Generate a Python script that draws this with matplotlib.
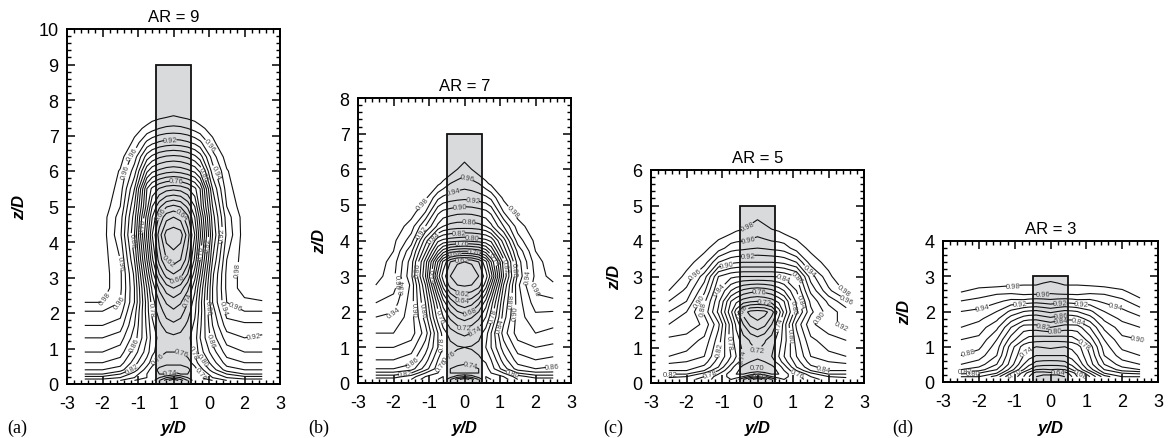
#!/usr/bin/python3
import numpy as np
import matplotlib
matplotlib.use('Agg')
import matplotlib.pyplot as plt
from matplotlib.ticker import MultipleLocator, FixedLocator, FixedFormatter

plt.rcParams['font.family'] = ['Liberation Sans', 'DejaVu Sans']

levels = np.arange(58, 100, 2)
y_cols = [-2.5, -2, -1.5, -1.1, -0.75, -0.6, -0.4, -0.2, 0, 0.2, 0.4, 0.6, 0.75, 1.1, 1.5, 2, 2.5]

# velocity grids, in percent of free stream
z_a = [0.1, 0.18, 0.28, 0.4, 0.6, 0.9, 1.3, 1.65, 2.05, 2.3, 2.7, 3.1, 3.5, 4.2, 4.7, 5.0, 5.5, 6.0, 6.4, 6.8, 7.2, 7.6, 8.0]
u_a = [
    [79, 79, 78, 76, 75, 75, 78, 81, 84, 81, 78, 75, 75, 76, 78, 79, 79],
    [81, 81, 80, 78, 76, 75, 76, 78, 79, 78, 76, 75, 76, 78, 80, 81, 81],
    [84, 84, 82, 79, 76, 75, 74, 74, 75, 74, 74, 75, 76, 79, 82, 84, 84],
    [86, 86, 85, 81, 77, 75, 73.5, 73, 73, 73, 73.5, 75, 77, 81, 85, 86, 86],
    [88, 88, 87, 83, 79, 77, 75, 74.5, 74.5, 74.5, 75, 77, 79, 83, 87, 88, 88],
    [90, 90, 89, 85, 81, 78.5, 77, 76, 76, 76, 77, 78.5, 81, 85, 89, 90, 90],
    [92, 92, 91, 87, 82, 79, 77.5, 76.8, 76.5, 76.8, 77.5, 79, 82, 87, 91, 92, 91.5],
    [94, 94, 93, 88, 81.5, 78.5, 76.5, 75, 74.5, 75, 76.5, 78.5, 81.5, 88, 93, 93.5, 93.5],
    [96, 96, 95, 89, 81, 77.5, 75, 73, 72.3, 73, 75, 77.5, 81, 89, 95, 96, 96],
    [98, 98, 96, 90, 81, 77, 74, 71.8, 71, 71.8, 74, 77, 81, 90, 96, 97.5, 97.8],
    [99.5, 99, 96.5, 90, 80, 75.5, 71.5, 69, 68, 69, 71.5, 75.5, 80, 90, 96.5, 99, 99.5],
    [100, 99, 96.5, 89.5, 78, 73, 68, 65, 64, 65, 68, 73, 78, 89.5, 96.5, 99, 100],
    [100, 99, 96, 88, 76, 70.5, 65, 62, 61, 62, 65, 70.5, 76, 88, 96, 99, 100],
    [100, 99, 94.5, 86, 73.5, 68, 63, 59, 58.5, 59, 63, 68, 73.5, 86, 94.5, 99, 100],
    [100, 99, 95, 87, 75, 70, 65.5, 62.8, 62, 62.8, 65.5, 70, 75, 87, 95, 99, 100],
    [100, 99.5, 96, 88, 77, 72, 68.5, 66.2, 65.5, 66.2, 68.5, 72, 77, 88, 96, 99.5, 100],
    [100, 100, 97, 90, 78, 75.5, 73.8, 72.8, 72.5, 72.8, 73.8, 75.5, 78, 90, 97, 100, 100],
    [100, 100, 97.8, 93, 84.5, 82.5, 81.5, 80.8, 80.5, 80.8, 81.5, 82.5, 84.5, 93, 97.8, 100, 100],
    [100, 100, 99, 95, 89, 87.5, 86.3, 85.7, 85.5, 85.7, 86.3, 87.5, 89, 95, 99, 100, 100],
    [100, 100, 100, 97.5, 93.5, 92.5, 91.7, 91.2, 91, 91.2, 91.7, 92.5, 93.5, 97.5, 100, 100, 100],
    [100, 100, 100, 98.8, 97.5, 96.8, 96, 95.6, 95.5, 95.6, 96, 96.8, 97.5, 98.8, 100, 100, 100],
    [100, 100, 100, 100, 99.5, 99.2, 99, 98.7, 98.3, 98.7, 99, 99.2, 99.5, 100, 100, 100, 100],
    [100, 100, 100, 100, 100, 100, 100, 100, 100, 100, 100, 100, 100, 100, 100, 100, 100],
]

z_b = [0.1, 0.18, 0.28, 0.4, 0.65, 1.0, 1.4, 1.85, 2.25, 2.75, 3.0, 3.4, 3.7, 4.0, 4.4, 4.8, 5.2, 5.6, 6.0, 6.4, 7.0, 8.0]
u_b = [
    [79, 79, 78, 75, 74, 74, 78, 81, 84, 81, 78, 74, 74, 75, 78, 79, 79],
    [81, 81, 79, 76, 75, 74, 75, 77, 78, 77, 75, 74, 75, 76, 79, 81, 81],
    [83.5, 83.5, 82, 78, 76, 75, 74, 74, 74, 74, 74, 75, 76, 78, 82, 83.5, 83.5],
    [86, 86, 85, 81, 77, 75, 74, 73.5, 73, 73.5, 74, 75, 77, 81, 85, 86, 85.5],
    [88, 88, 87, 83, 78, 76.5, 75.5, 75, 75, 75, 75.5, 76.5, 78, 83, 87, 88, 87.5],
    [90, 90, 89, 85, 80, 78, 76.8, 76.2, 76, 76.2, 76.8, 78, 80, 85, 89, 90, 89.5],
    [92, 92, 91, 87, 80, 77, 75, 74, 73.5, 74, 75, 77, 80, 87, 91, 92, 91.5],
    [94, 93.5, 91, 85, 77, 74, 71.5, 69.8, 69, 69.8, 71.5, 74, 77, 85, 91, 93.5, 93],
    [96, 95, 91, 84, 75, 71, 67.5, 65.3, 64.5, 65.3, 67.5, 71, 75, 84, 91, 95, 95.5],
    [98, 97, 91.5, 82, 70, 65, 61, 60, 59.7, 60, 61, 65, 70, 82, 91.5, 97, 97.5],
    [99, 96.5, 90.5, 80, 67, 63, 60, 58.5, 58, 58.5, 60, 63, 67, 80, 90.5, 96.5, 99],
    [99.5, 97, 91, 81, 70, 65.5, 62, 60.3, 60, 60.3, 62, 65.5, 70, 81, 91, 97, 99.5],
    [100, 98, 92.5, 84.5, 76, 73, 71, 70.3, 70, 70.3, 71, 73, 76, 84.5, 92.5, 98, 100],
    [100, 98.5, 95, 87, 80.5, 79.5, 79, 78.7, 78.5, 78.7, 79, 79.5, 80.5, 87, 95, 98.5, 100],
    [100, 99.5, 97, 92, 87.5, 86, 85.3, 85, 85, 85, 85.3, 86, 87.5, 92, 97, 99.5, 100],
    [100, 100, 99, 96, 90.5, 89.5, 89, 88.6, 88.5, 88.6, 89, 89.5, 90.5, 96, 99, 100, 100],
    [100, 100, 99.7, 98.5, 94.5, 93.5, 93, 92.7, 92.5, 92.7, 93, 93.5, 94.5, 98.5, 99.7, 100, 100],
    [100, 100, 100, 100, 98.5, 97.5, 96, 95.3, 95, 95.3, 96, 97.5, 98.5, 100, 100, 100, 100],
    [100, 100, 100, 100, 100, 100, 99.3, 98, 97, 98, 99.3, 100, 100, 100, 100, 100, 100],
    [100, 100, 100, 100, 100, 100, 100, 99.5, 99, 99.5, 100, 100, 100, 100, 100, 100, 100],
    [100, 100, 100, 100, 100, 100, 100, 100, 100, 100, 100, 100, 100, 100, 100, 100, 100],
    [100, 100, 100, 100, 100, 100, 100, 100, 100, 100, 100, 100, 100, 100, 100, 100, 100],
]

z_c = [0.1, 0.18, 0.25, 0.35, 0.45, 0.6, 0.75, 1.2, 1.65, 2.0, 2.3, 2.6, 3.0, 3.4, 3.8, 4.2, 4.6, 5.0, 6.0]
u_c = [
    [79, 79, 77, 75, 74, 75, 78, 81, 84, 81, 78, 75, 74, 75, 77, 79, 79],
    [80.5, 80, 78, 75, 73.5, 73, 74, 76.5, 78, 76.5, 74, 73, 73.5, 75, 78, 80, 80.5],
    [82, 82, 79, 76, 73, 72, 72, 73, 74, 73, 72, 72, 73, 76, 79, 82, 82],
    [84, 84, 82, 78, 74, 72.5, 71, 70.8, 71, 70.8, 71, 72.5, 74, 78, 82, 84, 84],
    [85, 85, 83.5, 80, 75, 73, 71.5, 70.5, 70, 70.5, 71.5, 73, 75, 80, 83.5, 85, 85],
    [86.5, 86, 85, 81, 77, 75, 73, 72, 71.5, 72, 73, 75, 77, 81, 85, 86, 86.5],
    [88, 87.5, 86, 82, 78, 76, 74, 73, 72.5, 73, 74, 76, 78, 82, 86, 87.5, 88],
    [89.5, 89, 87.5, 83, 77, 75, 73, 71.8, 71, 71.8, 73, 75, 77, 83, 87.5, 89, 90],
    [92, 91.5, 89.5, 84.5, 77, 73.5, 70, 67.5, 66.5, 67.5, 70, 73.5, 77, 84.5, 89.5, 91.5, 92.5],
    [94, 92, 87.5, 81.5, 74.5, 71, 67, 65.3, 65, 65.3, 67, 71, 74.5, 81.5, 87.5, 91, 93],
    [96, 94, 88.5, 82.5, 76, 74.5, 73, 72.3, 72, 72.3, 73, 74.5, 76, 82.5, 88.5, 92.5, 95.5],
    [98, 95.5, 90.5, 84, 80, 78.8, 77.5, 76.8, 76.5, 76.8, 77.5, 78.8, 80, 84, 90.5, 95.5, 98.5],
    [99.5, 97.5, 93, 86, 84.5, 84.2, 84, 84, 84, 84, 84, 84.2, 84.5, 86, 93, 97.5, 100],
    [100, 98.7, 97, 92, 90.5, 90.2, 90, 90, 90, 90, 90, 90.2, 90.5, 92, 97, 98.7, 100],
    [100, 99.5, 98.5, 97, 95, 94.7, 94.5, 94.2, 94, 94.2, 94.5, 94.7, 95, 97, 98.5, 99.5, 100],
    [100, 100, 99.7, 98.7, 98, 97.7, 97.5, 97, 96.5, 97, 97.5, 97.7, 98, 98.7, 99.7, 100, 100],
    [100, 100, 100, 100, 99.5, 99.3, 99, 98.5, 98, 98.5, 99, 99.3, 99.5, 100, 100, 100, 100],
    [100, 100, 100, 100, 100, 100, 100, 100, 100, 100, 100, 100, 100, 100, 100, 100, 100],
    [100, 100, 100, 100, 100, 100, 100, 100, 100, 100, 100, 100, 100, 100, 100, 100, 100],
]

z_d = [0.15, 0.25, 0.35, 0.5, 0.75, 1.0, 1.2, 1.55, 1.8, 2.0, 2.3, 2.55, 2.85, 3.2, 4.0]
u_d = [
    [78, 78, 75, 70, 66, 64, 62, 61, 60.5, 61, 62, 64, 66, 70, 75, 78, 78],
    [80.5, 80, 78, 72, 67, 65, 63, 63, 63.5, 63, 63, 65, 67, 72, 78, 80, 80.5],
    [84, 83, 80, 75, 70, 68, 66, 65.8, 66, 65.8, 66, 68, 70, 75, 80, 83, 84],
    [86, 85, 82, 77, 72, 70.5, 69, 68.6, 68.5, 68.6, 69, 70.5, 72, 77, 82, 85, 86],
    [88, 87, 84, 78, 74, 73, 72, 72, 72, 72, 72, 73, 74, 78, 84, 87, 88],
    [89.5, 88.5, 85, 79, 75, 74.5, 74, 74.2, 74.5, 74.2, 74, 74.5, 75, 79, 85, 88.5, 89.5],
    [90, 89.5, 86, 81, 78, 77, 76.8, 76.6, 76.5, 76.6, 76.8, 77, 78, 81, 86, 89.5, 90],
    [92, 91, 88.5, 84, 81, 81, 81, 81.5, 82, 81.5, 81, 81, 81, 84, 88.5, 91, 92],
    [93, 92.5, 90.5, 87, 85, 84.6, 84.5, 85, 85.5, 85, 84.5, 84.6, 85, 87, 90.5, 92.5, 93.5],
    [94, 93.5, 92, 89.5, 88, 87.7, 87.5, 88, 88.5, 88, 87.5, 87.7, 88, 89.5, 92, 93.5, 95],
    [96, 95.5, 94.5, 93.5, 93.5, 93.2, 93, 93.2, 93.5, 93.2, 93, 93.2, 93.5, 93.5, 94.5, 95.5, 97.5],
    [98, 97, 96.5, 96.5, 97, 97, 97, 96.8, 96.5, 96.8, 97, 97, 97, 96.5, 96.5, 97.5, 99],
    [99.5, 99.5, 99.5, 99, 98.5, 98.5, 98.5, 98.2, 98, 98.2, 98.5, 98.5, 98.5, 99, 99.5, 99.5, 99.5],
    [100, 100, 100, 100, 100, 100, 100, 100, 100, 100, 100, 100, 100, 100, 100, 100, 100],
    [100, 100, 100, 100, 100, 100, 100, 100, 100, 100, 100, 100, 100, 100, 100, 100, 100],
]

# where the small contour labels sit
labels_a = [(1.03, 6.74), (1.73, 3.24), (-1.83, 2.35), (-1.14, 6.48), (2.28, 1.17), (-0.09, 6.9), (0.07, 5.75),
            (-0.08, 3.6), (-1.05, 1.08), (1.12, 1.27), (-1.17, 0.42), (-0.09, 0.33), (0.8, 0.28), (-0.85, 4.46),
            (0.95, 3.94), (1.39, 4.22), (-1.2, 4.04), (-1.55, 3.4), (0.75, 3.7), (0.19, 4.74), (-0.37, 4.79),
            (0.09, 2.96), (0.37, 2.4), (1.4, 2.16), (1.73, 2.16), (-1.45, 2.3), (-0.66, 2.1), (0.98, 2.16),
            (0.19, 0.85), (-0.47, 0.75), (0.49, 0.85), (0.84, 0.7), (1.17, 5.96), (0.84, 5.92), (-1.4, 6.0)]
labels_b = [(-1.2, 5.07), (1.38, 4.84), (0.07, 5.73), (-0.29, 5.31), (-0.14, 5.03), (0.24, 5.17), (0.12, 4.56),
            (-0.16, 4.2), (0.21, 4.05), (-0.07, 3.88), (-0.26, 3.62), (0.26, 3.69), (-0.07, 3.44), (-0.07, 2.55),
            (-0.07, 2.24), (0.16, 1.94), (-0.02, 1.56), (0.31, 1.47), (-0.63, 1.1), (-0.35, 0.67), (0.16, 0.49),
            (-0.54, 0.44), (-1.53, 0.67), (-1.95, 1.94), (-2.04, 2.83), (-1.76, 2.73), (-1.34, 3.2), (-0.92, 3.0),
            (-0.87, 4.09), (-1.2, 4.23), (-1.53, 2.08), (-1.24, 2.03), (-0.68, 1.89), (0.82, 3.48), (1.15, 3.3),
            (1.38, 3.2), (1.74, 3.0), (1.9, 2.6), (1.38, 2.31), (1.53, 1.98), (0.77, 1.89), (1.0, 1.6),
            (2.46, 0.53), (1.34, 0.28), (-1.67, 0.25)]
labels_c = [(-0.33, 4.52), (-0.24, 4.03), (-0.26, 3.51), (-0.87, 3.4), (0.72, 2.98), (1.14, 2.98), (1.42, 3.12),
            (-1.72, 3.02), (-1.06, 2.65), (0.06, 2.6), (0.2, 2.32), (-0.4, 2.0), (-1.6, 2.28), (-1.48, 2.09),
            (2.36, 2.54), (2.5, 2.29), (2.36, 1.62), (1.8, 1.8), (1.24, 2.32), (1.0, 2.13), (0.58, 1.67),
            (0.95, 1.34), (-0.83, 1.15), (-1.01, 0.92), (-0.08, 0.82), (-0.36, 0.73), (-0.08, 0.47), (0.06, 0.2),
            (-1.34, 0.26), (-2.47, 0.28), (1.85, 0.34), (1.1, 0.23)]
labels_d = [(-1.04, 2.75), (-0.2, 2.5), (0.28, 2.24), (-0.85, 2.24), (-1.88, 2.1), (0.87, 2.2), (1.83, 2.2),
            (0.31, 1.84), (0.31, 1.7), (0.78, 1.77), (-0.2, 1.54), (0.13, 1.37), (-0.67, 0.9), (0.92, 1.04),
            (2.41, 1.11), (-2.3, 0.83), (0.22, 0.28), (0.82, 0.22), (-0.99, 0.24), (-2.37, 0.28), (-2.17, 0.2)]

W, H = 1170.0, 439.0

# left, right, top, bottom in pixels, z/D label x, tag x
panels = [
    (67, 280, 30, 385, 20, 7, 9, 10, 'AR = 9', '(a)', z_a, u_a, labels_a, ['-3', '-2', '-1', '1', '0', '2', '3']),
    (358, 571, 99, 384, 320, 308, 7, 8, 'AR = 7', '(b)', z_b, u_b, labels_b, ['-3', '-2', '-1', '0', '1', '2', '3']),
    (651, 864, 171, 384, 615, 603, 5, 6, 'AR = 5', '(c)', z_c, u_c, labels_c, ['-3', '-2', '-1', '0', '1', '2', '3']),
    (943, 1158, 242, 383, 905, 892, 3, 4, 'AR = 3', '(d)', z_d, u_d, labels_d, ['-3', '-2', '-1', '0', '1', '2', '3']),
]

fig = plt.figure(figsize=(11.7, 4.39), dpi=100)

for left, right, top, bottom, zlab_x, tag_x, ar, zmax, title, tag, zz, uu, lab_pos, xt in panels:
    ax = fig.add_axes([left / W, 1 - bottom / H, (right - left) / W, (bottom - top) / H])

    ax.add_patch(plt.Rectangle((-0.5, 0), 1, ar, fc='#d9dadc', ec='none', zorder=1))
    cs = ax.contour(y_cols, zz, np.array(uu) / 100.0, levels=levels / 100.0, colors='#111111',
                    linewidths=0.8, zorder=2)
    ax.clabel(cs, fmt='%.2f', fontsize=5.5, colors='#444444', inline=True, inline_spacing=0, manual=lab_pos)
    ax.add_patch(plt.Rectangle((-0.5, 0), 1, ar, fc='none', ec='#111111', lw=1.3, zorder=3))

    ax.set_xlim(-3, 3)
    ax.set_ylim(0, zmax)
    ax.xaxis.set_major_locator(FixedLocator(range(-3, 4)))
    ax.xaxis.set_major_formatter(FixedFormatter(xt))
    ax.yaxis.set_major_locator(MultipleLocator(1))
    ax.xaxis.set_minor_locator(MultipleLocator(0.2))
    ax.yaxis.set_minor_locator(MultipleLocator(0.2))
    ax.tick_params(which='major', direction='in', top=True, right=True, length=6, width=1.1,
                   labelsize=13, pad=6)
    ax.tick_params(axis='x', which='major', pad=8)
    ax.tick_params(which='minor', direction='in', top=True, right=True, length=3, width=1.0)
    for s in ax.spines.values():
        s.set_linewidth(1.4)

    ax.set_title(title, fontsize=12, pad=6)
    fig.text((left + right) / 2 / W, 1 - 433 / H, 'y/D', fontsize=12, fontweight='bold', style='italic',
             ha='center', va='baseline')
    fig.text(zlab_x / W, 1 - (top + bottom) / 2 / H, 'z/D', fontsize=12, fontweight='bold', style='italic',
             rotation=90, ha='center', va='center')
    fig.text(tag_x / W, 1 - 433 / H, tag, fontsize=13, family='Liberation Serif', ha='left', va='baseline')

fig.savefig('out.png', dpi=100)
